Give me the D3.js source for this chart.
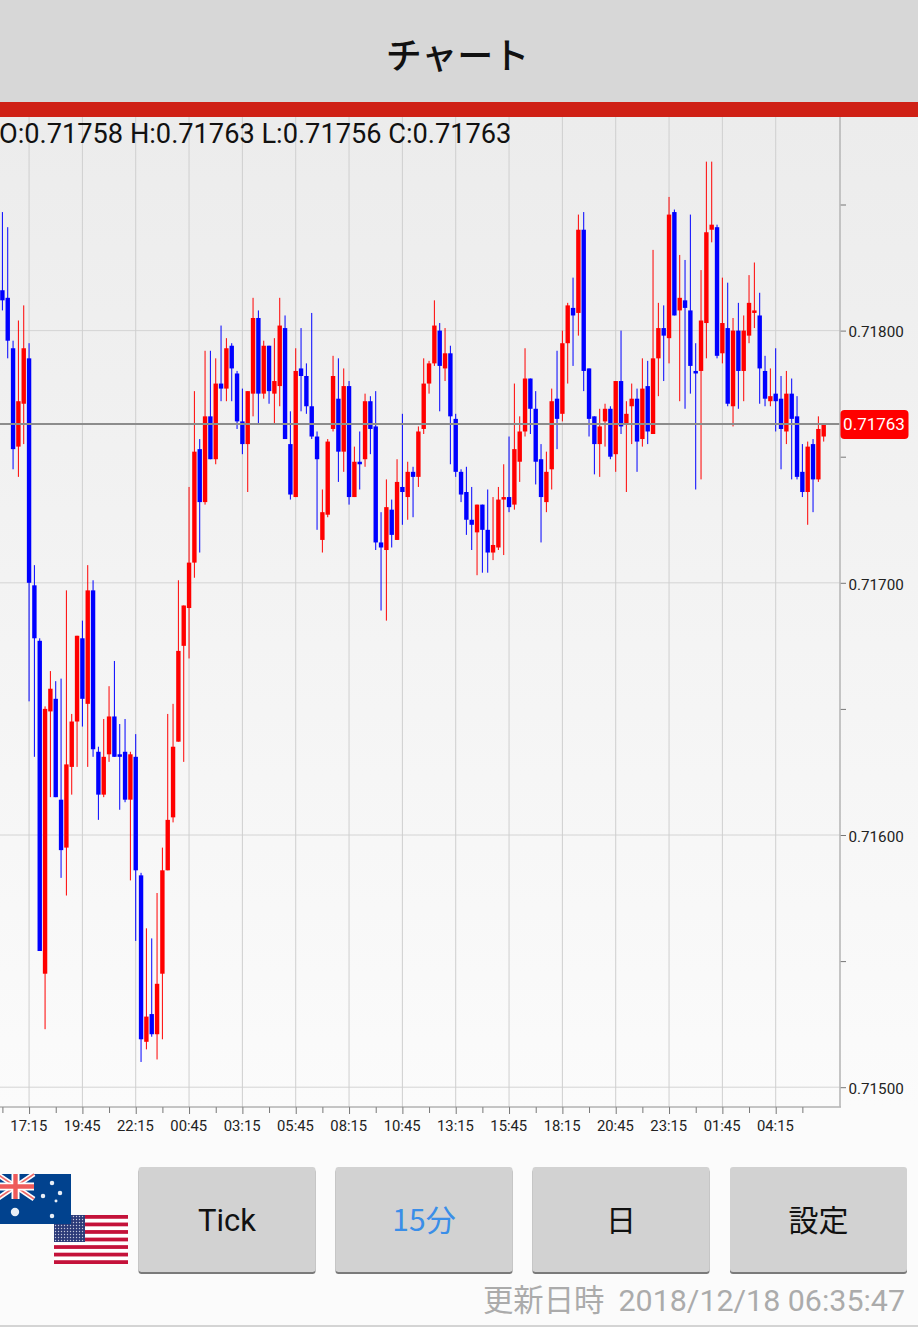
<!DOCTYPE html>
<html lang="ja">
<head>
  <meta charset="UTF-8">
  <title>チャート</title>
  <style>
    html, body { margin: 0; padding: 0; background: #fbfbfb; overflow: hidden; }
    text { font-family: Roboto, sans-serif; }
    .jp { font-family: "Noto Sans CJK JP", sans-serif; }
    .domain { display: none; }
  </style>
</head>
<body>
  <script src="https://d3js.org/d3.v7.min.js"></script>
  <div id="chart"></div>

  <script>
    // AUD/USD 15 min candles, prices in 1e-5 units
    const opens = [
      71816,71813,71793,71754,71771,71789,71699,71677,71545,71649,
      71654,71614,71595,71627,71645,71678,71652,71697,71633,71616,
      71632,71647,71632,71633,71614,71631,71584,71518,71529,71521,
      71545,71586,71607,71637,71675,71690,71708,71753,71732,71766,
      71749,71779,71777,71794,71783,71764,71755,71775,71805,71775,
      71794,71775,71778,71801,71755,71734,71785,71782,71770,71758,
      71717,71727,71761,71773,71752,71778,71734,71748,71749,71772,
      71762,71716,71713,71729,71717,71738,71734,71744,71742,71761,
      71779,71787,71800,71785,71791,71765,71744,71736,71725,71720,
      71731,71721,71712,71714,71733,71734,71731,71748,71760,71781,
      71769,71749,71732,71745,71773,71767,71795,71809,71807,71840,
      71785,71766,71755,71764,71769,71751,71780,71763,71770,71773,
      71757,71778,71759,71789,71801,71797,71847,71808,71812,71808,
      71784,71784,71803,71840,71841,71791,71801,71770,71800,71784,
      71798,71807,71806,71784,71772,71775,71773,71760,71775,71766,
      71744,71736,71755,71741,71758
    ]
    const closes = [
      71812,71796,71753,71772,71793,71700,71678,71554,71650,71658,
      71615,71594,71628,71645,71679,71654,71697,71634,71616,71631,
      71647,71631,71631,71614,71632,71586,71519,71528,71521,71541,
      71586,71606,71635,71673,71691,71708,71752,71732,71766,71749,
      71779,71777,71793,71785,71764,71755,71776,71805,71775,71794,
      71776,71780,71802,71757,71735,71784,71782,71770,71758,71749,
      71728,71756,71782,71752,71778,71734,71748,71747,71772,71761,
      71716,71714,71730,71719,71740,71736,71744,71742,71760,71779,
      71787,71802,71786,71791,71766,71744,71735,71725,71723,71731,
      71721,71712,71715,71733,71734,71730,71753,71760,71781,71769,
      71748,71734,71744,71772,71765,71795,71810,71806,71840,71784,
      71765,71755,71762,71769,71750,71780,71762,71767,71773,71756,
      71777,71760,71789,71801,71798,71846,71806,71813,71809,71786,
      71783,71804,71839,71842,71790,71803,71771,71800,71784,71800,
      71811,71808,71785,71773,71774,71772,71761,71775,71765,71742,
      71736,71754,71741,71761,71763
    ]
    const highs = [
      71847,71841,71796,71804,71810,71795,71707,71678,71651,71665,
      71661,71662,71697,71648,71679,71685,71707,71701,71635,71646,
      71659,71669,71644,71646,71633,71640,71585,71563,71559,71577,
      71595,71648,71652,71701,71691,71738,71776,71757,71792,71792,
      71789,71802,71797,71795,71784,71777,71776,71813,71808,71796,
      71794,71797,71813,71806,71768,71793,71801,71787,71807,71760,
      71737,71757,71790,71789,71785,71780,71754,71760,71775,71774,
      71776,71728,71741,71733,71749,71767,71748,71746,71762,71789,
      71788,71812,71803,71801,71794,71767,71745,71746,71738,71731,
      71731,71737,71734,71738,71747,71758,71779,71766,71793,71781,
      71776,71755,71752,71777,71792,71800,71811,71821,71846,71847,
      71785,71766,71769,71771,71770,71780,71800,71772,71779,71777,
      71789,71788,71832,71811,71810,71853,71848,71830,71828,71846,
      71795,71824,71867,71867,71842,71821,71819,71805,71811,71806,
      71822,71827,71815,71790,71785,71793,71782,71784,71781,71774,
      71755,71756,71757,71766,71763
    ]
    const lows = [
      71808,71789,71745,71742,71755,71653,71631,71554,71523,71615,
      71615,71583,71576,71616,71627,71643,71627,71631,71606,71615,
      71629,71631,71610,71613,71582,71558,71510,71515,71520,71511,
      71519,71586,71605,71637,71629,71670,71702,71712,71731,71749,
      71747,71772,71772,71772,71761,71751,71736,71766,71763,71773,
      71771,71763,71770,71757,71733,71734,71768,71767,71757,71721,
      71712,71726,71760,71740,71744,71731,71734,71737,71746,71751,
      71713,71689,71685,71714,71717,71723,71725,71726,71738,71759,
      71775,71786,71768,71780,71747,71742,71732,71719,71713,71703,
      71704,71704,71709,71713,71711,71728,71729,71740,71758,71759,
      71739,71716,71728,71737,71753,71764,71779,71786,71798,71776,
      71758,71743,71742,71754,71749,71744,71759,71736,71755,71744,
      71754,71755,71759,71774,71780,71787,71806,71772,71769,71775,
      71737,71741,71789,71835,71789,71787,71770,71762,71769,71772,
      71795,71801,71771,71770,71770,71760,71745,71755,71741,71741,
      71734,71723,71728,71740,71756
    ]

    const timeLabels = ['17:15','19:45','22:15','00:45','03:15','05:45','08:15','10:45','13:15','15:45','18:15','20:45','23:15','01:45','04:15']
    const timeIndex = timeLabels.map((t, i) => 5 + i * 10)      // candle index of each label
    const minorIndex = d3.range(0, 151, 10)
    const priceLabels = [71500, 71600, 71700, 71800]
    const priceTicks = [71500, 71550, 71600, 71650, 71700, 71750, 71800, 71850]
    const lastPrice = 71763
    const headerText = 'O:0.71758 H:0.71763 L:0.71756 C:0.71763'
    const buttons = ['Tick', '15分', '日', '設定']
    const fmt = v => (v / 100000).toFixed(5)

    const width = 918, height = 1327
    const plot = { left: 0, right: 840, top: 117, bottom: 1107 }

    const svg = d3.select('#chart').append('svg')
      .attr('width', width)
      .attr('height', height)
      .style('display', 'block')

    const defs = svg.append('defs')
    const bg = defs.append('linearGradient').attr('id', 'plotBg').attr('x1', 0).attr('x2', 0).attr('y1', 0).attr('y2', 1)
    bg.append('stop').attr('offset', '0%').attr('stop-color', '#ececec')
    bg.append('stop').attr('offset', '100%').attr('stop-color', '#fbfbfb')
    const dots = defs.append('pattern').attr('id', 'usDots').attr('width', 3).attr('height', 3).attr('patternUnits', 'userSpaceOnUse')
    dots.append('rect').attr('width', 3).attr('height', 3).attr('fill', '#2c3a78')
    dots.append('circle').attr('cx', 1.5).attr('cy', 1.5).attr('r', 0.7).attr('fill', '#c4c8dc')

    const x = d3.scaleLinear().domain([0, 154]).range([2.4, 823.7])
    const y = d3.scaleLinear().domain([71500, 71800]).range([1087.2, 330.6])

    // header bars
    svg.append('rect').attr('width', width).attr('height', 102).attr('fill', '#d7d7d7')
    svg.append('rect').attr('y', 102).attr('width', width).attr('height', 15).attr('fill', '#cf2015')
    svg.append('text').attr('class', 'jp')
      .attr('x', 457.5).attr('y', 69)
      .attr('text-anchor', 'middle')
      .attr('font-size', 36)
      .attr('font-weight', 500)
      .attr('fill', '#111')
      .text('チャート')

    // plot background, spans the right label column too
    svg.append('rect').attr('y', plot.top).attr('width', width).attr('height', plot.bottom - plot.top).attr('fill', 'url(#plotBg)')

    // grid
    svg.append('g').selectAll('line').data(priceLabels).join('line')
      .attr('x1', 0).attr('x2', plot.right)
      .attr('y1', d => y(d)).attr('y2', d => y(d))
      .attr('stroke', '#d4d4d4').attr('stroke-width', 1)
    svg.append('g').selectAll('line').data(timeIndex).join('line')
      .attr('x1', d => x(d)).attr('x2', d => x(d))
      .attr('y1', plot.top).attr('y2', plot.bottom)
      .attr('stroke', '#cfcfcf').attr('stroke-width', 1)

    // candles
    const candles = d3.range(opens.length).map(i => ({ i, o: opens[i], h: highs[i], l: lows[i], c: closes[i] }))
    const color = d => d.c >= d.o ? '#ff0000' : '#0000ff'

    const candle = svg.append('g').selectAll('g').data(candles).join('g')
    candle.append('line')
      .attr('x1', d => x(d.i)).attr('x2', d => x(d.i))
      .attr('y1', d => y(d.h)).attr('y2', d => y(d.l))
      .attr('stroke', color).attr('stroke-width', 1)
    candle.append('rect')
      .attr('x', d => x(d.i) - 2.2)
      .attr('width', 4.4)
      .attr('y', d => y(Math.max(d.o, d.c)))
      .attr('height', d => Math.max(1.5, Math.abs(y(d.o) - y(d.c))))
      .attr('fill', color)

    // last price line
    svg.append('line')
      .attr('x1', 0).attr('x2', plot.right)
      .attr('y1', y(lastPrice)).attr('y2', y(lastPrice))
      .attr('stroke', '#8c8c8c').attr('stroke-width', 2)

    // axes
    const xAxisMajor = svg.append('g')
      .attr('transform', `translate(0,${plot.bottom})`)
      .call(d3.axisBottom(x).tickValues(timeIndex).tickFormat((d, i) => timeLabels[i]).tickSize(7).tickPadding(6))
    const xAxisMinor = svg.append('g')
      .attr('transform', `translate(0,${plot.bottom})`)
      .call(d3.axisBottom(x).tickValues(minorIndex).tickFormat('').tickSize(6))
    xAxisMajor.selectAll('text').attr('font-size', 14.8).attr('fill', '#222').attr('font-family', 'Roboto').attr('dx', -0.8)
    xAxisMajor.selectAll('line').attr('stroke', '#777')
    xAxisMinor.selectAll('line').attr('stroke', '#777')

    const yAxis = svg.append('g')
      .attr('transform', `translate(${plot.right},0)`)
      .call(d3.axisRight(y).tickValues(priceTicks).tickFormat(d => priceLabels.includes(d) ? fmt(d) : '').tickSize(6).tickPadding(2.5))
    yAxis.selectAll('text').attr('font-size', 15.2).attr('fill', '#222').attr('font-family', 'Roboto').attr('dy', '0.42em')
    yAxis.selectAll('line').attr('stroke', '#777')

    svg.append('line').attr('x1', 0).attr('x2', plot.right + 1).attr('y1', plot.bottom).attr('y2', plot.bottom)
      .attr('stroke', '#8e8e8e').attr('stroke-width', 1)
    svg.append('line').attr('x1', plot.right).attr('x2', plot.right).attr('y1', plot.top).attr('y2', plot.bottom)
      .attr('stroke', '#b8b8b8').attr('stroke-width', 1.6)

    // last price tag
    svg.append('rect')
      .attr('x', 840.5).attr('y', y(lastPrice) - 14)
      .attr('width', 68).attr('height', 29).attr('rx', 4)
      .attr('fill', '#ff0000')
    svg.append('text')
      .attr('x', 874).attr('y', y(lastPrice) + 6)
      .attr('text-anchor', 'middle')
      .attr('font-size', 17).attr('fill', '#fff')
      .text(fmt(lastPrice))

    // OHLC header
    svg.append('text')
      .attr('x', -1).attr('y', 143)
      .attr('font-size', 27.2).attr('fill', '#111')
      .text(headerText)

    // buttons
    const btnX = [138.5, 335.5, 532.5, 730]
    const btn = svg.append('g').selectAll('g').data(buttons).join('g')
      .attr('transform', (d, i) => `translate(${btnX[i]},1167)`)
    btn.append('rect').attr('y', 2).attr('width', 177).attr('height', 105).attr('rx', 3).attr('fill', '#7a7a7a')
    btn.append('rect').attr('width', 177).attr('height', 105).attr('rx', 3).attr('fill', '#d2d2d2')
    btn.append('text')
      .attr('class', (d, i) => i ? 'jp' : null)
      .attr('x', 88.5).attr('y', 64)
      .attr('text-anchor', 'middle')
      .attr('font-size', (d, i) => i ? 30 : 31)
      .attr('fill', (d, i) => i === 1 ? '#3a8ee8' : '#111')
      .text(d => d)

    // flags
    const us = svg.append('g').attr('transform', 'translate(54,1215)')
    us.append('rect').attr('width', 74).attr('height', 49).attr('fill', '#fff')
    us.selectAll('.stripe').data(d3.range(0, 13, 2)).join('rect').attr('class', 'stripe')
      .attr('y', d => d * 49 / 13).attr('width', 74).attr('height', 49 / 13).attr('fill', '#c4123a')
    us.append('rect').attr('width', 31).attr('height', 27).attr('fill', 'url(#usDots)')

    const au = svg.append('g').attr('transform', 'translate(-3,1174)')
    au.append('rect').attr('width', 74).attr('height', 50).attr('fill', '#01428e')
    const uk = au.append('g')
    uk.append('line').attr('x1', 0).attr('y1', 0).attr('x2', 37).attr('y2', 25).attr('stroke', '#fff').attr('stroke-width', 5)
    uk.append('line').attr('x1', 37).attr('y1', 0).attr('x2', 0).attr('y2', 25).attr('stroke', '#fff').attr('stroke-width', 5)
    uk.append('line').attr('x1', 0).attr('y1', 0).attr('x2', 37).attr('y2', 25).attr('stroke', '#ee6a6a').attr('stroke-width', 1.6)
    uk.append('line').attr('x1', 37).attr('y1', 0).attr('x2', 0).attr('y2', 25).attr('stroke', '#ee6a6a').attr('stroke-width', 1.6)
    uk.append('line').attr('x1', 18.5).attr('y1', 0).attr('x2', 18.5).attr('y2', 25).attr('stroke', '#fff').attr('stroke-width', 8)
    uk.append('line').attr('x1', 0).attr('y1', 12.5).attr('x2', 37).attr('y2', 12.5).attr('stroke', '#fff').attr('stroke-width', 8)
    uk.append('line').attr('x1', 18.5).attr('y1', 0).attr('x2', 18.5).attr('y2', 25).attr('stroke', '#ee5a5a').attr('stroke-width', 4.4)
    uk.append('line').attr('x1', 0).attr('y1', 12.5).attr('x2', 37).attr('y2', 12.5).attr('stroke', '#ee5a5a').attr('stroke-width', 4.4)
    const stars = [[55, 9, 16], [46, 22, 16], [63, 19, 16], [59, 27, 7], [55, 42, 16], [18, 38, 55]]
    au.selectAll('path').data(stars).join('path')
      .attr('transform', d => `translate(${d[0]},${d[1]})`)
      .attr('d', d => d3.symbol(d3.symbolCircle, d[2])())
      .attr('fill', '#e8eef6')

    // footer
    svg.append('text').attr('class', 'jp')
      .attr('x', 604.5).attr('y', 1311)
      .attr('text-anchor', 'end')
      .attr('font-size', 30.4).attr('fill', '#ababab')
      .text('更新日時')
    svg.append('text')
      .attr('x', 905).attr('y', 1311)
      .attr('text-anchor', 'end')
      .attr('font-size', 30.4).attr('fill', '#ababab')
      .text('2018/12/18 06:35:47')
    svg.append('rect').attr('y', 1325).attr('width', width).attr('height', 2).attr('fill', '#d4d4d4')
  </script>
</body>
</html>
